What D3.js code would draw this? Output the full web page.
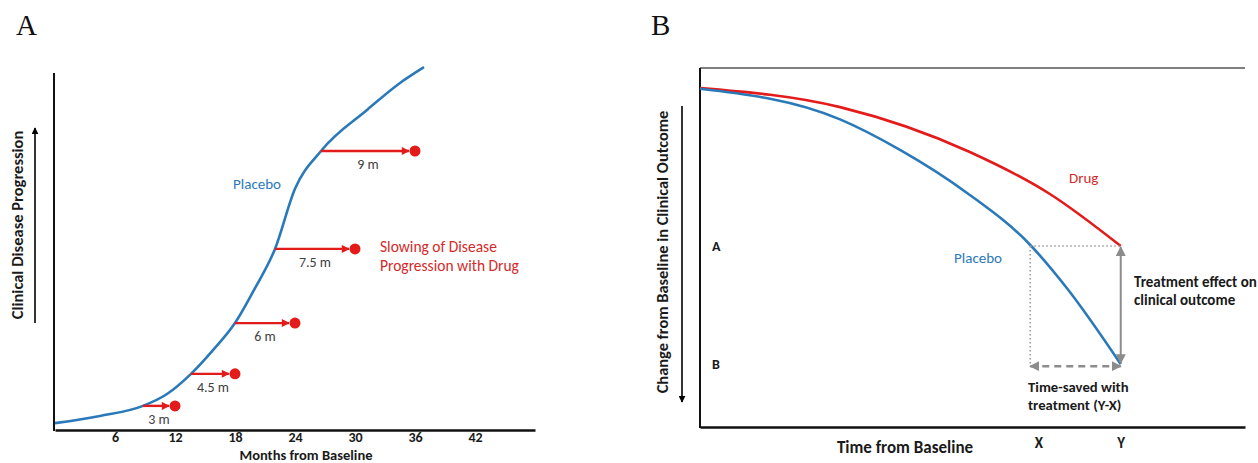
<!DOCTYPE html>
<html>
<head>
<meta charset="utf-8">
<script src="https://cdn.jsdelivr.net/npm/d3@7"></script>
<style>
  html, body { margin: 0; padding: 0; background: #fff; }
  svg { display: block; }
  text { font-family: Carlito, Lato, "Open Sans", sans-serif; }
</style>
</head>
<body>
<script>
// ---------------- Panel A data ----------------
const monthsA   = [0, 4.5, 8.8, 11.2, 13.6, 15.8, 18, 20, 22, 24, 26.6, 31.2, 34.5, 36.9];
const placeboA  = [1.9, 3.9, 6.7, 10.0, 15.6, 22.2, 29.7, 39.4, 50.3, 67, 77.5, 88.9, 96.4, 100.8];
const tickMonthsA = [6, 12, 18, 24, 30, 36, 42];
const arrowStartA = [8.8, 13.6, 18, 22, 26.6];
const arrowEndA   = [12, 18, 24, 30, 36];
const arrowLevelA = [6.7, 15.6, 29.7, 50.3, 77.5];
const arrowLabelsA = ["3 m", "4.5 m", "6 m", "7.5 m", "9 m"];

// ---------------- Panel B data ----------------
const timeDrugB    = [0, 25.7, 49.5, 64.2, 77.2];
const drugB        = [-5.6, -10.9, -23.4, -35.1, -49.6];
const timePlaceboB = [0, 25.7, 36.7, 49.0, 60.6, 67.3, 77.2];
const placeboB     = [-5.8, -14.3, -22.8, -34.8, -49.3, -61.3, -82.5];
const timeMarksB   = [60.6, 77.2];
const timeMarkLabelsB = ["X", "Y"];
const levelMarksB  = [-49.6, -82.5];
const levelMarkLabelsB = ["A", "B"];

const BLUE = "#2a79b9", RED = "#e31b1b", REDTXT = "#d42a2a", GRAY = "#8c8c8c", DARK = "#1a1a1a";

const svg = d3.select("body").append("svg").attr("width", 1258).attr("height", 463);
const defs = svg.append("defs");
function marker(id, color, w, h) {
  defs.append("marker").attr("id", id).attr("viewBox", "0 0 10 10")
    .attr("refX", 9).attr("refY", 5).attr("markerUnits", "userSpaceOnUse")
    .attr("markerWidth", w).attr("markerHeight", h).attr("orient", "auto-start-reverse")
    .append("path").attr("d", "M0,0 L10,5 L0,10 Z").attr("fill", color);
}
marker("arRed", RED, 9, 8);
marker("arBlack", "#000", 7, 7);
marker("arGray", GRAY, 10, 10);

// ================= PANEL A =================
const xA = d3.scaleLinear().domain([0, 48]).range([55, 535]);
const yA = d3.scaleLinear().domain([0, 100]).range([430, 70]);

svg.append("text").attr("x", 16).attr("y", 35).text("A")
  .style("font-family", "'Liberation Serif', 'DejaVu Serif', serif").style("font-size", "29px").attr("fill", "#111");

const gA = svg.append("g").attr("transform", `translate(0,${yA(0)})`)
  .call(d3.axisBottom(xA).tickValues(tickMonthsA).tickSize(0).tickPadding(2).tickFormat(d3.format("d")));
gA.select(".domain").attr("stroke", "#111").attr("stroke-width", 2.5);
gA.selectAll(".tick text").style("font-family", "Carlito, Lato, sans-serif").style("font-size", "14px")
  .style("font-weight", "bold").attr("fill", DARK);

svg.append("line").attr("x1", xA(0) - 1).attr("x2", xA(0) - 1).attr("y1", yA(0) + 1).attr("y2", 73)
  .attr("stroke", "#111").attr("stroke-width", 2);

svg.append("text").attr("x", 306).attr("y", 459.5).attr("text-anchor", "middle")
  .style("font-size", "14.5px").style("font-weight", "bold").attr("fill", DARK).text("Months from Baseline");

svg.append("text").attr("transform", "translate(23,225) rotate(-90)").attr("text-anchor", "middle")
  .style("font-size", "16.5px").style("font-weight", "bold").attr("fill", DARK).text("Clinical Disease Progression");
svg.append("line").attr("x1", 35).attr("x2", 35).attr("y1", 323).attr("y2", 128)
  .attr("stroke", "#000").attr("stroke-width", 1.6).attr("marker-end", "url(#arBlack)");

const lineA = d3.line().x(d => xA(d[0])).y(d => yA(d[1])).curve(d3.curveMonotoneX);
svg.append("path").datum(monthsA.map((m, i) => [m, placeboA[i]])).attr("d", lineA)
  .attr("fill", "none").attr("stroke", BLUE).attr("stroke-width", 2.6);

const arrA = arrowStartA.map((s, i) => ({ s, e: arrowEndA[i], v: arrowLevelA[i], lab: arrowLabelsA[i] }));
svg.selectAll("line.arA").data(arrA).join("line").attr("class", "arA")
  .attr("x1", d => xA(d.s)).attr("x2", d => xA(d.e) - 6)
  .attr("y1", d => yA(d.v)).attr("y2", d => yA(d.v))
  .attr("stroke", RED).attr("stroke-width", 2.4).attr("marker-end", "url(#arRed)");
svg.selectAll("circle.dotA").data(arrA).join("circle").attr("class", "dotA")
  .attr("cx", d => xA(d.e)).attr("cy", d => yA(d.v)).attr("r", 5.5).attr("fill", RED);
svg.selectAll("text.labA").data(arrA).join("text").attr("class", "labA")
  .attr("x", d => (xA(d.s) + xA(d.e)) / 2).attr("y", d => yA(d.v) + 18).attr("text-anchor", "middle")
  .style("font-size", "14px").attr("fill", "#404040").text(d => d.lab);

svg.append("text").attr("x", 233).attr("y", 189).style("font-size", "15px").attr("fill", BLUE).text("Placebo");
svg.append("text").attr("x", 380).attr("y", 252).style("font-size", "15.5px").attr("fill", REDTXT).text("Slowing of Disease");
svg.append("text").attr("x", 380).attr("y", 271).style("font-size", "15.5px").attr("fill", REDTXT).text("Progression with Drug");

// ================= PANEL B =================
const xB = d3.scaleLinear().domain([0, 100]).range([700, 1245]);
const yB = d3.scaleLinear().domain([0, -100]).range([68, 427]);

svg.append("text").attr("x", 651).attr("y", 35).text("B")
  .style("font-family", "'Liberation Serif', 'DejaVu Serif', serif").style("font-size", "29px").attr("fill", "#111");

svg.append("line").attr("x1", xB(0)).attr("x2", xB(100)).attr("y1", yB(0)).attr("y2", yB(0))
  .attr("stroke", "#7f7f7f").attr("stroke-width", 2);
svg.append("line").attr("x1", xB(0)).attr("x2", xB(0)).attr("y1", yB(0)).attr("y2", yB(-100) + 1)
  .attr("stroke", "#111").attr("stroke-width", 2);
const gB = svg.append("g").attr("transform", `translate(0,${yB(-100)})`)
  .call(d3.axisBottom(xB).tickValues(timeMarksB).tickSize(0).tickPadding(10)
    .tickFormat((d, i) => timeMarkLabelsB[i]));
gB.select(".domain").attr("stroke", "#111").attr("stroke-width", 2.5);
gB.selectAll(".tick text").style("font-family", "Carlito, Lato, sans-serif").style("font-size", "15px")
  .style("font-weight", "bold").attr("fill", DARK).attr("dx", (d, i) => i === 0 ? 8 : 0);

const gL = svg.append("g").attr("transform", `translate(${xB(0) + 12},0)`)
  .call(d3.axisRight(yB).tickValues(levelMarksB).tickSize(0).tickPadding(0)
    .tickFormat((d, i) => levelMarkLabelsB[i]));
gL.select(".domain").remove();
gL.selectAll(".tick text").style("font-family", "Carlito, Lato, sans-serif").style("font-size", "14px")
  .style("font-weight", "bold").attr("fill", DARK);

svg.append("text").attr("x", 905).attr("y", 453).attr("text-anchor", "middle")
  .style("font-size", "17px").style("font-weight", "bold").attr("fill", DARK).text("Time from Baseline");

svg.append("text").attr("transform", "translate(668,252) rotate(-90)").attr("text-anchor", "middle")
  .style("font-size", "16.4px").style("font-weight", "bold").attr("fill", DARK)
  .text("Change from Baseline in Clinical Outcome");
svg.append("line").attr("x1", 682).attr("x2", 682).attr("y1", 106).attr("y2", 402)
  .attr("stroke", "#000").attr("stroke-width", 1.6).attr("marker-end", "url(#arBlack)");

const lineB = d3.line().x(d => xB(d[0])).y(d => yB(d[1])).curve(d3.curveMonotoneX);
svg.append("path").datum(timeDrugB.map((t, i) => [t, drugB[i]])).attr("d", lineB)
  .attr("fill", "none").attr("stroke", RED).attr("stroke-width", 2.6);
svg.append("path").datum(timePlaceboB.map((t, i) => [t, placeboB[i]])).attr("d", lineB)
  .attr("fill", "none").attr("stroke", BLUE).attr("stroke-width", 2.6);

const X = timeMarksB[0], Y = timeMarksB[1];
const lvlA = levelMarksB[0], lvlB = levelMarksB[1];
svg.append("line").attr("x1", xB(X)).attr("x2", xB(Y)).attr("y1", yB(lvlA)).attr("y2", yB(lvlA))
  .attr("stroke", "#999").attr("stroke-width", 1.6).attr("stroke-dasharray", "1.5,2.5");
svg.append("line").attr("x1", xB(X)).attr("x2", xB(X)).attr("y1", yB(lvlA)).attr("y2", yB(lvlB) + 2)
  .attr("stroke", "#999").attr("stroke-width", 1.6).attr("stroke-dasharray", "1.5,2.5");
svg.append("line").attr("x1", xB(Y)).attr("x2", xB(Y)).attr("y1", yB(lvlA) + 1).attr("y2", yB(lvlB) - 1)
  .attr("stroke", GRAY).attr("stroke-width", 2).attr("marker-start", "url(#arGray)").attr("marker-end", "url(#arGray)");
svg.append("line").attr("x1", xB(X)).attr("x2", xB(Y)).attr("y1", yB(lvlB) + 2).attr("y2", yB(lvlB) + 2)
  .attr("stroke", GRAY).attr("stroke-width", 2.4).attr("stroke-dasharray", "7,5")
  .attr("marker-start", "url(#arGray)").attr("marker-end", "url(#arGray)");

svg.append("text").attr("x", 1069).attr("y", 183).style("font-size", "15px").attr("fill", REDTXT).text("Drug");
svg.append("text").attr("x", 954).attr("y", 263).style("font-size", "15px").attr("fill", BLUE).text("Placebo");

svg.append("text").attr("x", 1134).attr("y", 287).style("font-size", "15px").style("font-weight", "bold")
  .attr("fill", DARK).text("Treatment effect on");
svg.append("text").attr("x", 1134).attr("y", 305).style("font-size", "15px").style("font-weight", "bold")
  .attr("fill", DARK).text("clinical outcome");
svg.append("text").attr("x", 1028).attr("y", 392).style("font-size", "14.7px").style("font-weight", "bold")
  .attr("fill", DARK).text("Time-saved with");
svg.append("text").attr("x", 1028).attr("y", 410).style("font-size", "14.7px").style("font-weight", "bold")
  .attr("fill", DARK).text("treatment (Y-X)");
</script>
</body>
</html>
